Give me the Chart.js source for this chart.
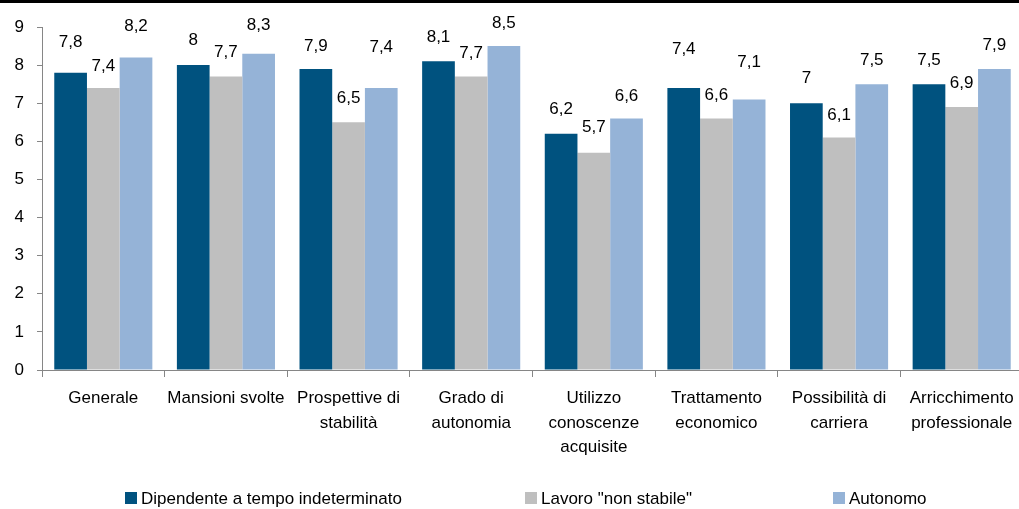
<!DOCTYPE html>
<html>
<head>
<meta charset="utf-8">
<script src="https://cdn.jsdelivr.net/npm/chart.js@4"></script>
<style>
  html, body { margin: 0; padding: 0; background: #fff; overflow: hidden; }
  #wrap { position: relative; width: 1023px; height: 509px; }
  #topline { position: absolute; left: 0; top: 0; width: 1019px; height: 3px; background: #000; }
</style>
</head>
<body>
<div id="wrap">
  <canvas id="satisfactionChart" width="1023" height="509"></canvas>
  <div id="topline"></div>
</div>
<script>
const categories = [
    'Generale',
    'Mansioni svolte',
    ['Prospettive di', 'stabilità'],
    ['Grado di', 'autonomia'],
    ['Utilizzo', 'conoscenze', 'acquisite'],
    ['Trattamento', 'economico'],
    ['Possibilità di', 'carriera'],
    ['Arricchimento', 'professionale']
]
const dipendenteValues = [7.8, 8.0, 7.9, 8.1, 6.2, 7.4, 7.0, 7.5]
const nonStabileValues = [7.4, 7.7, 6.5, 7.7, 5.7, 6.6, 6.1, 6.9]
const autonomoValues = [8.2, 8.3, 7.4, 8.5, 6.6, 7.1, 7.5, 7.9]
const seriesNames = ['Dipendente a tempo indeterminato', 'Lavoro "non stabile"', 'Autonomo']
const seriesColors = ['#00527f', '#bfbfbf', '#95b3d7']
const yTicks = [0, 1, 2, 3, 4, 5, 6, 7, 8, 9]

const fontFamily = '"Liberation Sans", Arial, sans-serif'
// how far each value label sits above its bar (pixels), per series and category
const labelLift = [
    [30, 25, 23, 24, 24, 39, 25, 24],
    [22, 24, 24, 23, 25, 23, 22, 24],
    [31, 28, 41, 23, 22, 37, 24, 24]
]
const legendX = [125, 525, 833]

// value labels above the bars, comma as decimal separator
const valueLabels = {
    id: 'valueLabels',
    afterDatasetsDraw(chart) {
        const ctx = chart.ctx
        ctx.save()
        ctx.font = '17px ' + fontFamily
        ctx.fillStyle = '#000'
        ctx.textAlign = 'center'
        ctx.textBaseline = 'middle'
        chart.data.datasets.forEach((ds, i) => {
            chart.getDatasetMeta(i).data.forEach((bar, j) => {
                const text = String(ds.data[j]).replace('.', ',')
                ctx.fillText(text, bar.x, bar.y - labelLift[i][j])
            })
        })
        ctx.restore()
    }
}

const bottomLegend = {
    id: 'bottomLegend',
    afterDraw(chart) {
        const ctx = chart.ctx
        ctx.save()
        ctx.font = '17px ' + fontFamily
        ctx.textBaseline = 'middle'
        chart.data.datasets.forEach((ds, i) => {
            ctx.fillStyle = ds.backgroundColor
            ctx.fillRect(legendX[i], 492, 12, 12)
            ctx.fillStyle = '#000'
            ctx.fillText(ds.label, legendX[i] + 16, 499)
        })
        ctx.restore()
    }
}

const ctx = document.getElementById('satisfactionChart').getContext('2d')
new Chart(ctx, {
    type: 'bar',
    data: {
        labels: categories,
        datasets: [
            { label: seriesNames[0], data: dipendenteValues, backgroundColor: seriesColors[0] },
            { label: seriesNames[1], data: nonStabileValues, backgroundColor: seriesColors[1] },
            { label: seriesNames[2], data: autonomoValues, backgroundColor: seriesColors[2] }
        ]
    },
    options: {
        responsive: false,
        animation: false,
        layout: { padding: { top: 27, right: 0, bottom: 0, left: 0 } },
        datasets: { bar: { categoryPercentage: 0.8, barPercentage: 1.0 } },
        plugins: {
            legend: { display: false },
            tooltip: { enabled: false }
        },
        scales: {
            x: {
                grid: { drawOnChartArea: false, drawTicks: true, tickLength: 7, color: '#868686', offset: true },
                border: { color: '#868686', width: 1 },
                ticks: {
                    color: '#000',
                    font: { family: fontFamily, size: 17, lineHeight: 1.45 },
                    padding: 9,
                    maxRotation: 0,
                    autoSkip: false
                },
                afterFit(scale) { scale.height = 139 }
            },
            y: {
                min: 0,
                max: 9,
                afterBuildTicks(scale) { scale.ticks = yTicks.map(v => ({ value: v })) },
                grid: { drawOnChartArea: false, drawTicks: true, tickLength: 5, color: '#868686' },
                border: { color: '#868686', width: 1 },
                ticks: {
                    color: '#000',
                    font: { family: fontFamily, size: 17 },
                    padding: 13
                },
                afterFit(scale) { scale.width = 42 }
            }
        }
    },
    plugins: [valueLabels, bottomLegend]
})
</script>
</body>
</html>
